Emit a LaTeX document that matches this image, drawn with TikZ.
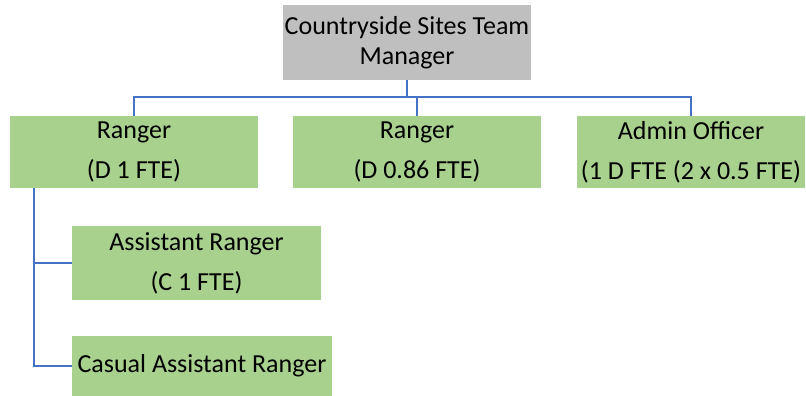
\documentclass[tikz,border=0pt]{standalone}
\usepackage{fontspec}
\setmainfont{Carlito}
\definecolor{boxgreen}{HTML}{A9D18E}
\definecolor{boxgray}{HTML}{BFBFBF}
\definecolor{linkblue}{HTML}{4472C4}
\begin{document}
\begin{tikzpicture}[x=1pt,y=-1pt,
  box/.style={rectangle, fill=boxgreen, inner sep=0pt, align=center, font=\fontsize{26}{30}\selectfont},
  conn/.style={draw=linkblue, line width=2pt}]
\useasboundingbox (0,0) rectangle (806,396);
\node[box, fill=boxgray, minimum width=248pt, minimum height=75pt] (mgr) at (407,42.5) {Countryside Sites Team\\Manager};
\node[box, minimum width=248pt, minimum height=72pt] (r1) at (134,152) {Ranger\\[10pt](D 1 FTE)};
\node[box, minimum width=248pt, minimum height=72pt] (r2) at (417,152) {Ranger\\[10pt](D 0.86 FTE)};
\node[box, minimum width=228pt, minimum height=72pt] (r3) at (691,152) {Admin Officer\\[10pt](1 D FTE (2 x 0.5 FTE)};
\node[box, minimum width=249pt, minimum height=74pt] (asst) at (196.5,263) {Assistant Ranger\\[10pt](C 1 FTE)};
\node[box, minimum width=260pt, minimum height=60pt] (cas) at (202,366) {Casual Assistant Ranger};
\coordinate (bus) at (407,97);
\coordinate (lft) at (34,188);
\draw[conn] (mgr.south) -- (mgr.south |- bus);
\draw[conn] (r1.north) |- (r3.north |- bus) -- (r3.north);
\draw[conn] (r2.north) -- (r2.north |- bus);
\draw[conn] (lft |- r1.south) |- (cas.west);
\draw[conn] (lft |- asst.west) -- (asst.west);
\end{tikzpicture}
\end{document}
